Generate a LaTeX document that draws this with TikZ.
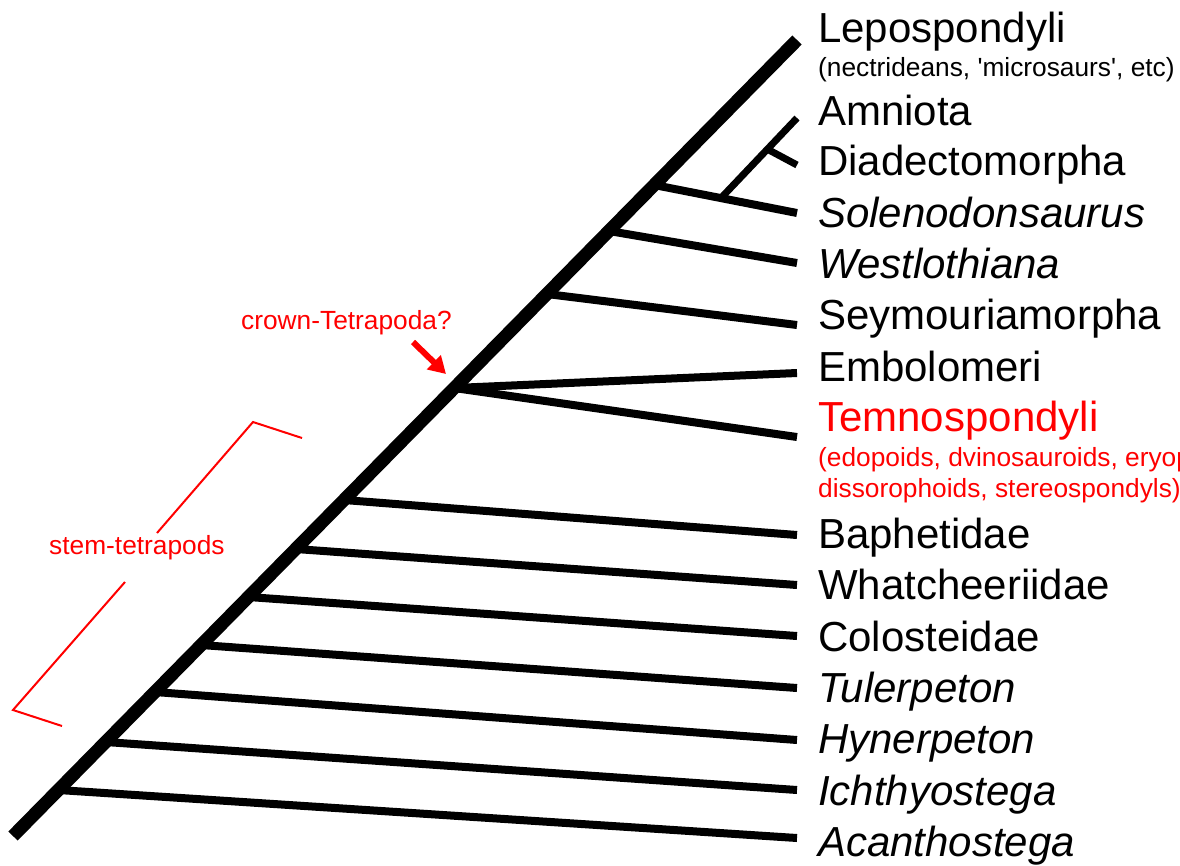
\documentclass[tikz,border=0pt]{standalone}
\usepackage{fontspec}
\setmainfont{Liberation Sans}
\usetikzlibrary{arrows.meta}
\begin{document}
\begin{tikzpicture}[x=1pt,y=-1pt,
  stemline/.style={line width=13pt},
  br/.style={line width=8pt},
  subbr/.style={line width=7pt},
  lab/.style={anchor=base west, inner sep=0pt, font=\fontsize{42}{48}\selectfont},
  ilab/.style={lab, font=\fontsize{42}{48}\selectfont\itshape},
  sublab/.style={anchor=base west, inner sep=0pt, font=\fontsize{26.3}{30}\selectfont},
  redline/.style={red, line width=2pt},
  redarrow/.style={red, line width=6pt, -{Triangle[length=17pt,width=19pt]}}
]
\useasboundingbox (0,0) rectangle (1180,865);

% stem
\coordinate (root) at (13,836);
\coordinate (top) at (797,40);
\draw[stemline] (root) -- (top);

% branch points on stem
\coordinate (bAcan) at (58.3,790);
\coordinate (bIch) at (105.6,742);
\coordinate (bHyn) at (154.8,692);
\coordinate (bTul) at (201.1,645);
\coordinate (bCol) at (248.4,597);
\coordinate (bWha) at (295.7,549);
\coordinate (bBap) at (343.9,500);
\coordinate (bEmb) at (454.2,388);
\coordinate (bSey) at (546.8,294);
\coordinate (bWes) at (608.9,231);
\coordinate (bSol) at (654.2,185);

% tips
\coordinate (tAcan) at (797,838);
\coordinate (tIch) at (797,790);
\coordinate (tHyn) at (797,740);
\coordinate (tTul) at (797,688);
\coordinate (tCol) at (797,636);
\coordinate (tWha) at (797,585);
\coordinate (tBap) at (797,535);
\coordinate (tTem) at (797,437);
\coordinate (tEmb) at (797,373);
\coordinate (tSey) at (797,325);
\coordinate (tWes) at (797,263);
\coordinate (tSol) at (797,213);
\coordinate (tAmn) at (797,118);
\coordinate (tDia) at (797,165);

\draw[br] (bAcan) -- (tAcan);
\draw[br] (bIch) -- (tIch);
\draw[br] (bHyn) -- (tHyn);
\draw[br] (bTul) -- (tTul);
\draw[br] (bCol) -- (tCol);
\draw[br] (bWha) -- (tWha);
\draw[br] (bBap) -- (tBap);
\draw[br] (bEmb) -- (tEmb);
\draw[br] (bEmb) -- (tTem);
\draw[br] (bSey) -- (tSey);
\draw[br] (bWes) -- (tWes);
\draw[br] (bSol) -- (tSol);
\coordinate (nAmn) at (722,197);
\coordinate (nDia) at (768,149.5);
\draw[subbr] (nAmn) -- (tAmn);
\draw[subbr] (nDia) -- (tDia);

% labels
\node[lab] (lepo) at (818,42) {Lepospondyli};
\node[sublab] (leposub) at (818,76) {(nectrideans, \textquotesingle microsaurs\textquotesingle, etc)};
\node[lab] (amn) at (818,125) {Amniota};
\node[lab] (dia) at (818,175) {Diadectomorpha};
\node[ilab] (sol) at (818,227) {Solenodonsaurus};
\node[ilab] (wes) at (818,278) {Westlothiana};
\node[lab] (sey) at (818,329) {Seymouriamorpha};
\node[lab] (emb) at (818,381) {Embolomeri};
\node[lab, text=red] (tem) at (818,431) {Temnospondyli};
\node[sublab, text=red] (temsub1) at (818,466) {(edopoids, dvinosauroids, eryopoids,};
\node[sublab, text=red] (temsub2) at (818,497) {dissorophoids, stereospondyls)};
\node[lab] (bap) at (818,548) {Baphetidae};
\node[lab] (wha) at (818,599) {Whatcheeriidae};
\node[lab] (col) at (818,651) {Colosteidae};
\node[ilab] (tul) at (818,702) {Tulerpeton};
\node[ilab] (hyn) at (818,753) {Hynerpeton};
\node[ilab] (ich) at (818,805) {Ichthyostega};
\node[ilab] (aca) at (818,856) {Acanthostega};

% crown-Tetrapoda
\node[sublab, text=red] (crown) at (241,329) {crown-Tetrapoda?};
\coordinate (arrS) at (413,342);
\coordinate (arrE) at (446,374);
\draw[redarrow] (arrS) -- (arrE);

% stem-tetrapods bracket
\node[sublab, text=red] (stemt) at (49,554) {stem-tetrapods};
\draw[redline] (302,438) -- (253,422) -- (157,533);
\draw[redline] (125,582) -- (13,710) -- (62,726);
\end{tikzpicture}
\end{document}
